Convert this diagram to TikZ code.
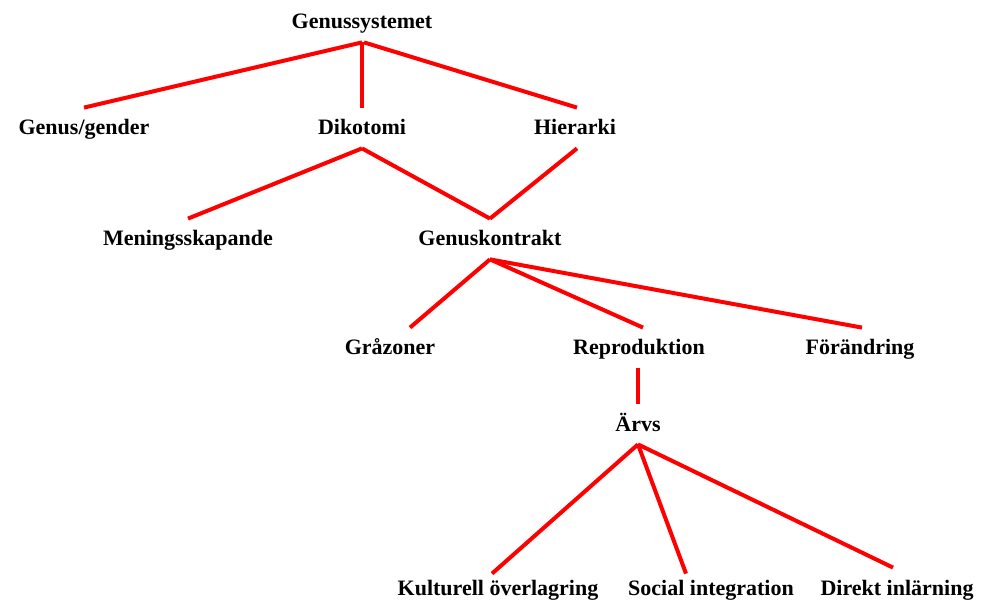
\documentclass[tikz,border=0pt]{standalone}
\usepackage{fontspec}
\setmainfont{Liberation Serif}
\usepackage{tikz}
\tikzset{
	treenode/.style = {align=center, inner xsep=0pt, inner ysep=4.5pt,
		text height=9pt, text depth=2pt, font=\fontsize{11}{13}\selectfont\bfseries},
	gen_n/.style = {treenode, black},
	gen_l/.style = {draw=red, line width=2pt}
}
\begin{document}
\begin{tikzpicture}[x=0.5pt,y=-0.5pt]
\useasboundingbox (0,0) rectangle (983,603);
% top levels
\node [gen_n] (gs) at (362,22) {Genussystemet};
\node [gen_n] (gg) at (84,128) {Genus/gender};
\node [gen_n] (dk) at (362,128) {Dikotomi};
\node [gen_n] (hi) at (575,128) {Hierarki};
\node [gen_n] (me) at (188,239) {Meningsskapande};
\node [gen_n] (gk) at (490,239) {Genuskontrakt};
% contract level
\node [gen_n] (gz) at (390,348) {Gråzoner};
\node [gen_n] (rp) at (639,348) {Reproduktion};
\node [gen_n] (fo) at (860,348) {Förändring};
\node [gen_n] (ar) at (638,424) {Ärvs};
\node [gen_n] (ko) at (498,588) {Kulturell överlagring};
\node [gen_n] (si) at (711,588) {Social integration};
\node [gen_n] (di) at (897,588) {Direkt inlärning};

\draw [gen_l] (gs.south) -- (gg.north);
\draw [gen_l] (gs.south) -- (dk.north);
\draw [gen_l] ([xshift=1pt]gs.south) -- ([xshift=1pt]hi.north);
\draw [gen_l] (dk.south) -- (me.north);
\draw [gen_l] (dk.south) -- (gk.north);
\draw [gen_l] ([xshift=1pt]hi.south) -- (gk.north);
\draw [gen_l] (gk.south) -- ([xshift=10pt]gz.north);
\draw [gen_l] (gk.south) -- ([xshift=2pt]rp.north);
\draw [gen_l] (gk.south) -- ([xshift=1pt]fo.north);
\draw [gen_l] ([xshift=-0.5pt]rp.south) -- (ar.north);
\draw [gen_l] (ar.south) -- ([xshift=-3pt,yshift=-3pt]ko.north);
\draw [gen_l] (ar.south) -- ([xshift=-12.5pt,yshift=-3pt]si.north);
\draw [gen_l] (ar.south) -- ([xshift=-2pt]di.north);
\end{tikzpicture}
\end{document}
